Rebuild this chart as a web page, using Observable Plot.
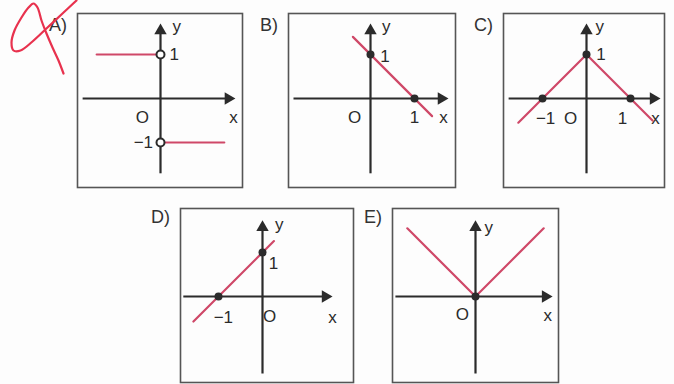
<!DOCTYPE html>
<html>
<head>
<meta charset="utf-8">
<script src="https://cdn.jsdelivr.net/npm/d3@7"></script>
<script src="https://cdn.jsdelivr.net/npm/@observablehq/plot@0.6"></script>
<style>
  html, body { margin: 0; padding: 0; background: #fff; }
  #page { position: relative; width: 674px; height: 384px; overflow: hidden; background: #fdfdfd;
          font-family: "Liberation Sans", Arial, sans-serif; color: #333; }
  .panel { position: absolute; }
  .plabel { position: absolute; font-size: 18px; line-height: 20px; color: #333; text-align: right; }
  #overlay { position: absolute; left: 0; top: 0; pointer-events: none; }
</style>
</head>
<body>
<div id="page"></div>
<script>
// ---------- data ----------
const panelIds = ["A", "B", "C", "D", "E"];

// graph segments (series id s)
const graphA = [
  {x: -1.45, y: 1, s: 0}, {x: 0, y: 1, s: 0},
  {x: 0, y: -1, s: 1}, {x: 1.45, y: -1, s: 1}
];
const graphB = [{x: -0.4, y: 1.4, s: 0}, {x: 1.4, y: -0.4, s: 0}];
const graphC = [{x: -1.55, y: -0.55, s: 0}, {x: 0, y: 1, s: 0}, {x: 1.5, y: -0.5, s: 0}];
const graphD = [{x: -1.57, y: -0.57, s: 0}, {x: 0.26, y: 1.26, s: 0}];
const graphE = [{x: -1.55, y: 1.55, s: 0}, {x: 0, y: 0, s: 0}, {x: 1.55, y: 1.55, s: 0}];

// marked points
const openA = [{x: 0, y: 1}, {x: 0, y: -1}];
const dotsB = [{x: 0, y: 1}, {x: 1, y: 0}];
const dotsC = [{x: -1, y: 0}, {x: 0, y: 1}, {x: 1, y: 0}];
const dotsD = [{x: -1, y: 0}, {x: 0, y: 1}];
const dotsE = [{x: 0, y: 0}];

// axis labels / tick labels (centre positions, in graph units)
const textsA = [
  {t: "y", x: 0.37, y: 1.64}, {t: "1", x: 0.31, y: 1.0},
  {t: "x", x: 1.66, y: -0.43}, {t: "O", x: -0.41, y: -0.43},
  {t: "−1", x: -0.39, y: -1.0}
];
const textsB = [
  {t: "y", x: 0.36, y: 1.64}, {t: "1", x: 0.33, y: 0.95},
  {t: "O", x: -0.36, y: -0.44}, {t: "1", x: 1.0, y: -0.44},
  {t: "x", x: 1.66, y: -0.44}
];
const textsC = [
  {t: "y", x: 0.3, y: 1.64}, {t: "1", x: 0.33, y: 1.0},
  {t: "−1", x: -0.93, y: -0.45}, {t: "O", x: -0.36, y: -0.45},
  {t: "1", x: 0.82, y: -0.45}, {t: "x", x: 1.57, y: -0.45}
];
const textsD = [
  {t: "y", x: 0.38, y: 1.64}, {t: "1", x: 0.25, y: 0.76},
  {t: "−1", x: -0.89, y: -0.48}, {t: "O", x: 0.16, y: -0.46},
  {t: "x", x: 1.59, y: -0.48}
];
const textsE = [
  {t: "y", x: 0.3, y: 1.57}, {t: "O", x: -0.3, y: -0.4},
  {t: "x", x: 1.64, y: -0.44}
];

// axis extents (units) for each panel: [xmin, xmax, ymin, ymax]
const axisA = [-1.77, 1.70, -1.70, 1.70];
const axisB = [-1.75, 1.77, -1.70, 1.70];
const axisC = [-1.77, 1.68, -1.70, 1.70];
const axisD = [-1.80, 1.59, -1.75, 1.73];
const axisE = [-1.82, 1.75, -1.75, 1.73];

// handwritten red check mark near A (page pixel space)
const scribble = [
  [76, 0], [62, 13], [47, 27], [32, 41], [20, 50], [13, 50], [11, 42], [14, 30],
  [21, 17], [28, 7], [33, 3], [37, 7], [41, 20], [46, 33], [52, 47], [58, 60], [63, 73]
];

// ---------- layout (styling) ----------
const unit = 44;
const layout = {
  A: {left: 77, top: 13, w: 165, h: 174, ox: 83, oy: 85, ly: 15},
  B: {left: 288, top: 13, w: 167, h: 174, ox: 82, oy: 85, ly: 15},
  C: {left: 503, top: 13, w: 161, h: 174, ox: 83, oy: 85, ly: 15},
  D: {left: 180, top: 208, w: 173, h: 174, ox: 82, oy: 88, ly: 207},
  E: {left: 392, top: 208, w: 166, h: 174, ox: 83, oy: 88, ly: 207}
};
const graphs = {A: graphA, B: graphB, C: graphC, D: graphD, E: graphE};
const dots = {A: [], B: dotsB, C: dotsC, D: dotsD, E: dotsE};
const opens = {A: openA, B: [], C: [], D: [], E: []};
const texts = {A: textsA, B: textsB, C: textsC, D: textsD, E: textsE};
const axes = {A: axisA, B: axisB, C: axisC, D: axisD, E: axisE};

const ink = "#2b2b2b";
const red = "#cf4868";
const page = document.getElementById("page");
const pad = 2;

for (const id of panelIds) {
  const L = layout[id];
  const [ax0, ax1, ay0, ay1] = axes[id];
  const head = 0.16; // arrowhead centroid offset in units
  const xAxis = [{x1: ax0, x2: ax1 - 0.1, y: 0}];
  const yAxis = [{y1: ay0, y2: ay1 - 0.1, x: 0}];
  const heads = [
    {x: ax1 - head, y: 0, r: 90},
    {x: 0, y: ay1 - head, r: 0}
  ];
  const chart = Plot.plot({
    width: L.w + 2 * pad,
    height: L.h + 2 * pad,
    margin: pad,
    x: {domain: [-L.ox / unit, (L.w - L.ox) / unit], axis: null},
    y: {domain: [-(L.h - L.oy) / unit, L.oy / unit], axis: null},
    style: {background: "transparent", overflow: "visible"},
    marks: [
      Plot.frame({stroke: "#555", strokeWidth: 1.6}),
      Plot.link(xAxis, {x1: "x1", x2: "x2", y1: "y", y2: "y", stroke: ink, strokeWidth: 2.2}),
      Plot.link(yAxis, {x1: "x", x2: "x", y1: "y1", y2: "y2", stroke: ink, strokeWidth: 2.2}),
      Plot.dot(heads, {x: "x", y: "y", rotate: "r", symbol: "triangle", r: 4.6, fill: ink, stroke: "none"}),
      Plot.line(graphs[id], {x: "x", y: "y", z: "s", stroke: red, strokeWidth: 2.2}),
      Plot.dot(dots[id], {x: "x", y: "y", r: 4, fill: ink, stroke: "none"}),
      Plot.dot(opens[id], {x: "x", y: "y", r: 4, fill: "white", stroke: ink, strokeWidth: 2}),
      Plot.text(texts[id], {x: "x", y: "y", text: "t", textAnchor: "middle", fontSize: 17,
        fill: ink, fontFamily: "Liberation Sans, Arial, sans-serif"})
    ]
  });
  const div = document.createElement("div");
  div.className = "panel";
  div.style.left = (L.left - pad) + "px";
  div.style.top = (L.top - pad) + "px";
  div.appendChild(chart);
  page.appendChild(div);

  const lab = document.createElement("div");
  lab.className = "plabel";
  lab.style.right = (674 - (L.left - 10)) + "px";
  lab.style.top = L.ly + "px";
  lab.textContent = id + ")";
  page.appendChild(lab);
}

// overlay for red handwritten mark
const overlay = Plot.plot({
  width: 674, height: 384, margin: 0,
  x: {domain: [0, 674], axis: null},
  y: {domain: [0, 384], axis: null, reverse: true},
  style: {background: "transparent"},
  marks: [
    Plot.line(scribble, {x: d => d[0], y: d => d[1], stroke: "#e8324e", strokeWidth: 2.2, curve: "catmull-rom"})
  ]
});
overlay.id = "overlay";
page.appendChild(overlay);
</script>
</body>
</html>
